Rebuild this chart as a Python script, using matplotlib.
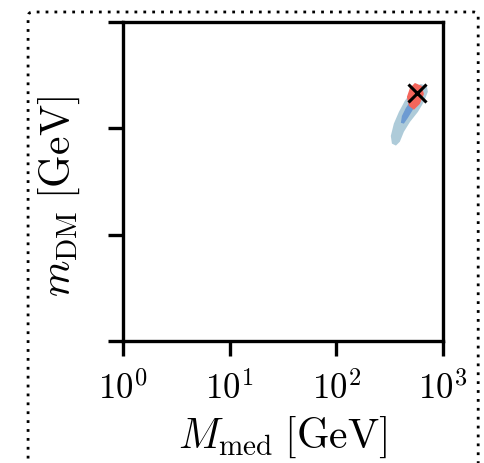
import matplotlib
matplotlib.use("Agg")
import matplotlib.pyplot as plt
from matplotlib.patches import FancyBboxPatch, Polygon
import numpy as np

plt.rcParams['mathtext.fontset'] = 'cm'
plt.rcParams['font.family'] = 'serif'

# x-axis ticks (log scale, GeV)
x_ticks = [1, 10, 100, 1000]
x_tick_labels = [r'$10^{0}$', r'$10^{1}$', r'$10^{2}$', r'$10^{3}$']
y_ticks = [1, 10, 100, 1000]

# Outer (light blue) credible region: M_med, m_DM
outer_mmed = [622, 708, 723, 664, 583, 491, 431, 395, 363, 333, 325, 347, 387, 440, 512, 570]
outer_mdm = [262, 251, 221, 178, 143, 115, 93, 75, 69, 72, 85, 111, 143, 182, 225, 251]

# Inner (dark blue) region
inner_mmed = [523, 558, 523, 470, 431, 404, 413, 450, 491]
inner_mdm = [186, 174, 150, 126, 111, 113, 131, 156, 178]

# Red region
red_mmed = [547, 635, 664, 608, 535, 480, 460, 491]
red_mdm = [268, 251, 211, 170, 150, 163, 198, 240]

# Best fit / true point
best_mmed = [569]
best_mdm = [216]

fig = plt.figure(figsize=(4.84, 4.64), dpi=100)
ax = fig.add_axes([0.254, 0.263, 0.661, 0.687])

ax.set_xscale('log')
ax.set_yscale('log')
ax.set_xlim(1, 1000)
ax.set_ylim(1, 1000)

ax.add_patch(Polygon(np.column_stack([outer_mmed, outer_mdm]), closed=True,
                     facecolor='#aecbd9', edgecolor='none', zorder=2))
ax.add_patch(Polygon(np.column_stack([inner_mmed, inner_mdm]), closed=True,
                     facecolor='#6d9bd2', edgecolor='none', zorder=3))
ax.add_patch(Polygon(np.column_stack([red_mmed, red_mdm]), closed=True,
                     facecolor='#f4665c', edgecolor='none', zorder=4))
ax.plot(best_mmed, best_mdm, marker='x', color='black', markersize=13,
        markeredgewidth=2.2, linestyle='none', zorder=5)

ax.set_xticks(x_ticks)
ax.set_xticklabels(x_tick_labels)
ax.set_yticks(y_ticks)
ax.set_yticklabels([])
ax.minorticks_off()
ax.tick_params(axis='both', which='major', direction='out', length=11, width=2.4,
               labelsize=25, pad=10)
for s in ax.spines.values():
    s.set_linewidth(2.4)

ax.set_xlabel(r'$M_{\rm med}\;[\rm GeV]$', fontsize=30, labelpad=6)
ax.set_ylabel(r'$m_{\rm DM}\;[\rm GeV]$', fontsize=30)
ax.yaxis.set_label_coords(-0.128, 0.455)

frame = FancyBboxPatch((0.058, -0.05), 0.93, 1.022, boxstyle='round,pad=0,rounding_size=0.01',
                       transform=fig.transFigure, facecolor='none', edgecolor='black',
                       linestyle=(0, (1, 2.2)), linewidth=2, clip_on=False)
fig.patches.append(frame)

fig.savefig('out.png', dpi=100)
